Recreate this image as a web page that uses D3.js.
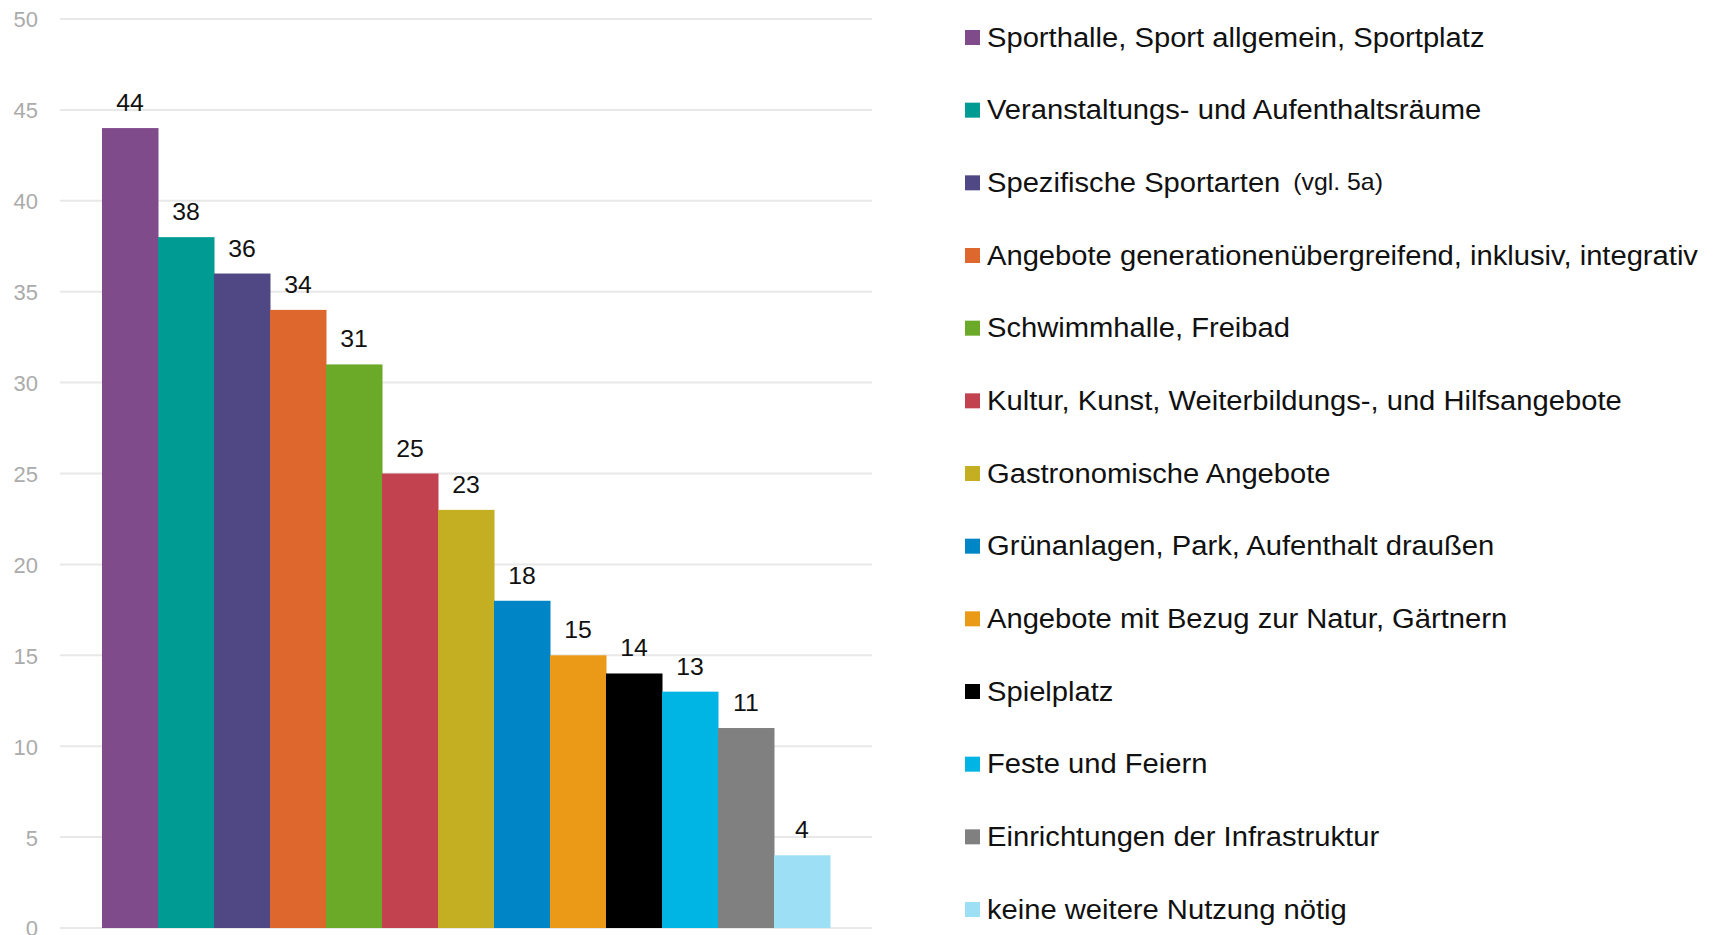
<!DOCTYPE html>
<html><head><meta charset="utf-8">
<script src="https://cdn.jsdelivr.net/npm/d3@7"></script>
<style>
html,body{margin:0;padding:0;background:#fff;}
svg{display:block;font-family:"Liberation Sans",Arial,Helvetica,sans-serif;}
</style></head>
<body>
<svg id="chart" width="1719" height="935"></svg>
<script>
const categories = [
  "Sporthalle, Sport allgemein, Sportplatz",
  "Veranstaltungs- und Aufenthaltsräume",
  "Spezifische Sportarten",
  "Angebote generationenübergreifend, inklusiv, integrativ",
  "Schwimmhalle, Freibad",
  "Kultur, Kunst, Weiterbildungs-, und Hilfsangebote",
  "Gastronomische Angebote",
  "Grünanlagen, Park, Aufenthalt draußen",
  "Angebote mit Bezug zur Natur, Gärtnern",
  "Spielplatz",
  "Feste und Feiern",
  "Einrichtungen der Infrastruktur",
  "keine weitere Nutzung nötig"
];
const categoryNotes = ["", "", "(vgl. 5a)", "", "", "", "", "", "", "", "", "", ""];
const values = [44, 38, 36, 34, 31, 25, 23, 18, 15, 14, 13, 11, 4];
const colors = ["#7f4b8a","#009b93","#4f4884","#de672e","#6aaa28","#c2434f","#c4ae22","#0086c6","#eb9a17","#000000","#00b4e4","#808080","#9de0f5"];
const yTicks = [0, 5, 10, 15, 20, 25, 30, 35, 40, 45, 50];

const svg = d3.select("#chart");
const plot = {left: 60, right: 872, top: 19, bottom: 928};
const stretch = 1.08;

const x = d3.scaleBand().domain(d3.range(categories.length))
  .range([plot.left, plot.right]).paddingInner(0).paddingOuter(0.75);
const y = d3.scaleLinear().domain([0, 50]).range([plot.bottom, plot.top]);

// gridlines
svg.append("g").selectAll("line").data(yTicks).join("line")
  .attr("x1", plot.left).attr("x2", plot.right)
  .attr("y1", d => y(d)).attr("y2", d => y(d))
  .attr("stroke", "#e8e8e8").attr("stroke-width", 2);

// y axis labels
const yAxis = d3.axisLeft(y).tickValues(yTicks).tickSize(0).tickPadding(0);
const ya = svg.append("g").attr("transform", "translate(38,0)").call(yAxis);
ya.select(".domain").remove();
ya.selectAll("text").attr("fill", "#ababab").attr("font-size", 22)
  .attr("font-family", "'Liberation Sans',Arial,sans-serif").attr("dy", "0.36em");

// bars
svg.append("g").selectAll("rect").data(values).join("rect")
  .attr("x", (d, i) => x(i)).attr("width", x.bandwidth() + 0.5)
  .attr("y", d => y(d)).attr("height", d => y(0) - y(d))
  .attr("fill", (d, i) => colors[i]);

// value labels
svg.append("g").selectAll("text").data(values).join("text")
  .attr("transform", (d, i) => `translate(${x(i) + x.bandwidth() / 2},${y(d) - 17}) scale(${stretch},1)`)
  .attr("text-anchor", "middle").attr("font-size", 23).attr("fill", "#111")
  .text(d => d);

// legend
const ly = d3.scalePoint().domain(d3.range(categories.length)).range([37.5, 909.5]);
const lg = svg.append("g").selectAll("g").data(categories).join("g")
  .attr("transform", (d, i) => `translate(965,${ly(i)})`);
lg.append("rect").attr("x", 0).attr("y", -7.5).attr("width", 15).attr("height", 15)
  .attr("fill", (d, i) => colors[i]);
const lt = lg.append("text").attr("transform", `translate(22,9) scale(${stretch},1)`)
  .attr("font-size", 27).attr("fill", "#111");
lt.append("tspan").text(d => d);
lt.append("tspan").attr("dx", 12).attr("dy", -1.5).attr("font-size", 23)
  .text((d, i) => categoryNotes[i]);
</script>
</body></html>
